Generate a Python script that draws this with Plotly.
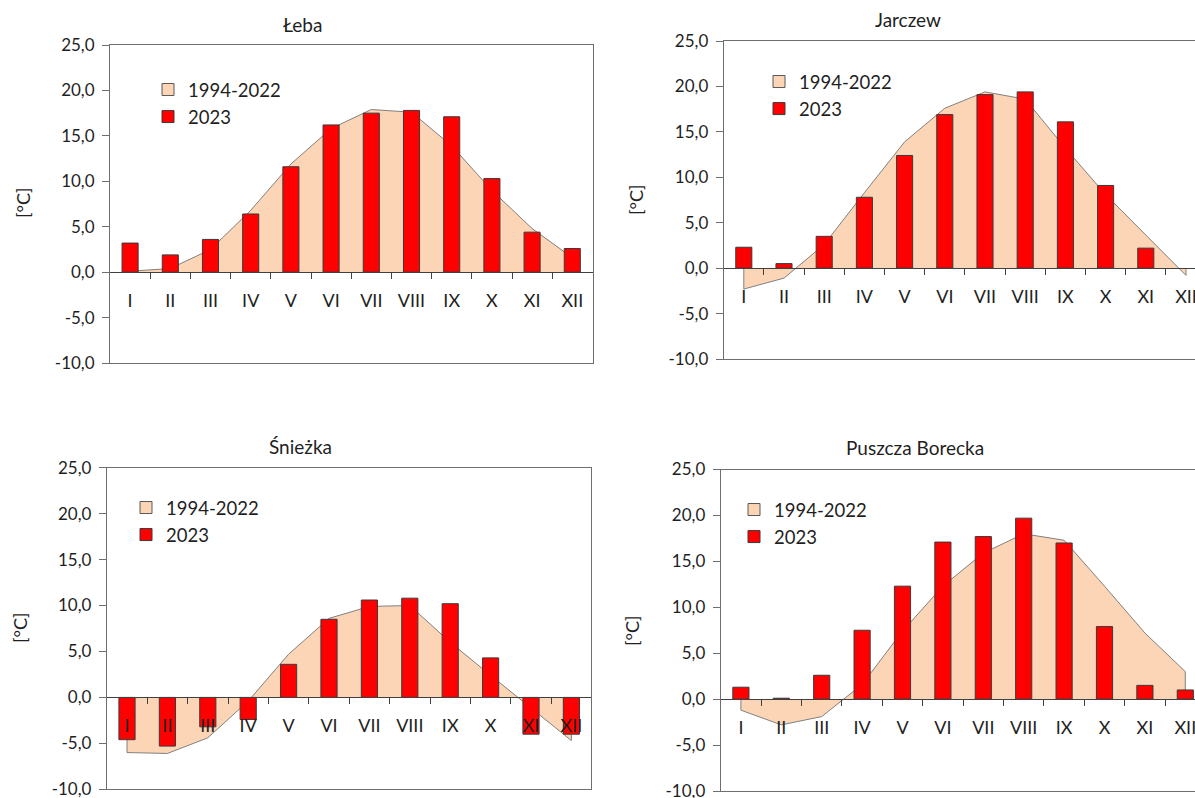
import plotly.graph_objects as go

# Monthly mean air temperature: 1994-2022 average vs. 2023
months = ["I", "II", "III", "IV", "V", "VI", "VII", "VIII", "IX", "X", "XI", "XII"]

leba_norm = [0.1, 0.4, 2.5, 6.8, 11.9, 15.8, 17.9, 17.6, 13.9, 9.0, 4.8, 1.6]
leba_2023 = [3.2, 1.9, 3.6, 6.4, 11.6, 16.2, 17.5, 17.8, 17.1, 10.3, 4.4, 2.6]

jarczew_norm = [-2.3, -1.1, 2.6, 8.3, 13.9, 17.6, 19.4, 18.6, 13.2, 8.1, 3.6, -0.8]
jarczew_2023 = [2.3, 0.5, 3.5, 7.8, 12.4, 16.9, 19.1, 19.4, 16.1, 9.1, 2.2, None]

sniezka_norm = [-6.0, -6.1, -4.4, -0.4, 4.7, 8.6, 9.9, 10.0, 6.0, 2.4, -1.1, -4.7]
sniezka_2023 = [-4.6, -5.3, -3.2, -2.4, 3.6, 8.5, 10.6, 10.8, 10.2, 4.3, -4.0, -4.0]

borecka_norm = [-1.2, -2.8, -1.9, 1.6, 7.4, 12.3, 15.9, 18.0, 17.3, 12.3, 7.2, 3.0]
borecka_2023 = [1.3, 0.1, 2.6, 7.5, 12.3, 17.1, 17.7, 19.7, 17.0, 7.9, 1.5, 1.0]

y_ticks = [-10, -5, 0, 5, 10, 15, 20, 25]
y_ticktext = [f"{v:.1f}".replace(".", ",") for v in y_ticks]

W, H = 1195, 798
FONT = "Lato"
TXT = "#1f1f1f"
FRAME = "#6e6e6e"
PEACH = "#fbd5b5"
RED = "#ff0000"

# plot-area placement (pixels) for each station panel
panels = [
    dict(name="Łeba", norm=leba_norm, cur=leba_2023,
         L=110, R=592.7, T=45, B=363, cat=40.2,
         title=(303, 25), ytitle=(23, 203), leg=(168, 84)),
    dict(name="Jarczew", norm=jarczew_norm, cur=jarczew_2023,
         L=723.7, R=1206, T=41, B=359, cat=40.2,
         title=(908, 19), ytitle=(636, 200), leg=(779, 76)),
    dict(name="Śnieżka", norm=sniezka_norm, cur=sniezka_2023,
         L=106.8, R=591.4, T=467.7, B=789.3, cat=40.4,
         title=(300, 446), ytitle=(20, 628), leg=(146, 502)),
    dict(name="Puszcza Borecka", norm=borecka_norm, cur=borecka_2023,
         L=720.7, R=1205.5, T=469.5, B=791, cat=40.4,
         title=(915, 447), ytitle=(632, 631), leg=(754, 504)),
]

fig = go.Figure()
layout = dict(
    width=W, height=H, margin=dict(l=0, r=0, t=0, b=0, autoexpand=False),
    paper_bgcolor="white", plot_bgcolor="white",
    font=dict(family=FONT, size=17, color=TXT),
    barmode="overlay", showlegend=True, annotations=[],
)

for i, p in enumerate(panels, start=1):
    sfx = "" if i == 1 else str(i)
    xid, yid = "x" + sfx, "y" + sfx
    zid = "x" + str(i + 4)
    leg_id = "legend" + sfx
    x_right = min(p["R"], W)
    xmax = -0.5 + (x_right - p["L"]) / p["cat"]
    xr = [-0.5, xmax]
    y0, y1 = 1 - p["B"] / H, 1 - p["T"] / H
    zero_pos = y0 + (0 - (-10)) / 35 * (y1 - y0)

    layout["xaxis" + sfx] = dict(
        domain=[p["L"] / W, x_right / W], range=xr, anchor=yid,
        showline=True, linecolor=FRAME, linewidth=1, mirror=True,
        ticks="", showticklabels=False, showgrid=False, zeroline=False,
    )
    layout["yaxis" + sfx] = dict(
        domain=[y0, y1], range=[-10, 25], anchor=xid,
        showline=True, linecolor=FRAME, linewidth=1, mirror=p["R"] <= W,
        ticks="outside", ticklen=7, tickcolor=FRAME,
        tickvals=y_ticks, ticktext=y_ticktext, ticklabelstandoff=4,
        ticklabeloverflow="allow",
        showgrid=False, zeroline=False,
    )
    # category axis drawn along the 0 line
    layout["xaxis" + str(i + 4)] = dict(
        overlaying=xid, anchor="free", position=zero_pos, range=xr,
        showline=True, linecolor="#404040", linewidth=1,
        ticks="", tickvals=list(range(len(months))), ticktext=months,
        tickfont=dict(size=18),
        ticklabelstandoff=12, ticklabeloverflow="allow",
        minor=dict(tickmode="array", tickvals=[k + 0.5 for k in range(len(months) - 1)],
                   ticks="outside", ticklen=6, tickcolor="#404040", showgrid=False),
        showgrid=False, zeroline=False, layer="above traces",
    )

    # long-term mean as a filled area between the curve and 0
    xs = [0] + list(range(len(months))) + [len(months) - 1]
    ys = [0] + p["norm"] + [0]
    fig.add_trace(go.Scatter(
        x=xs, y=ys, mode="lines", fill="toself", fillcolor=PEACH,
        line=dict(color="#808080", width=1), xaxis=xid, yaxis=yid,
        showlegend=False, hoverinfo="skip",
    ))
    # legend swatch for the mean
    fig.add_trace(go.Bar(
        x=[None], y=[None], name="1994-2022", xaxis=zid, yaxis=yid,
        marker=dict(color=PEACH, line=dict(color="#595959", width=1)),
        legend=leg_id,
    ))
    fig.add_trace(go.Bar(
        x=list(range(len(months))), y=p["cur"], name="2023", width=0.4,
        xaxis=zid, yaxis=yid,
        marker=dict(color=RED, line=dict(color="#3a3a3a", width=1)),
        legend=leg_id,
    ))

    lx, ly = p["leg"]
    layout[leg_id] = dict(
        x=(lx - 20) / W, y=1 - (ly - 13) / H, xanchor="left", yanchor="top",
        bgcolor="rgba(0,0,0,0)", borderwidth=0, traceorder="normal",
        font=dict(family=FONT, size=18.5, color=TXT), tracegroupgap=0,
    )

    tx, ty = p["title"]
    layout["annotations"].append(dict(
        text=p["name"], x=tx / W, y=1 - ty / H, xref="paper", yref="paper",
        xanchor="center", yanchor="middle", showarrow=False,
        font=dict(family=FONT, size=19, color=TXT),
    ))
    ax_, ay_ = p["ytitle"]
    layout["annotations"].append(dict(
        text="[°C]", x=ax_ / W, y=1 - ay_ / H, xref="paper", yref="paper",
        xanchor="center", yanchor="middle", showarrow=False, textangle=-90,
        font=dict(family=FONT, size=18, color=TXT),
    ))

fig.update_layout(**layout)
fig.write_html("out.html")
